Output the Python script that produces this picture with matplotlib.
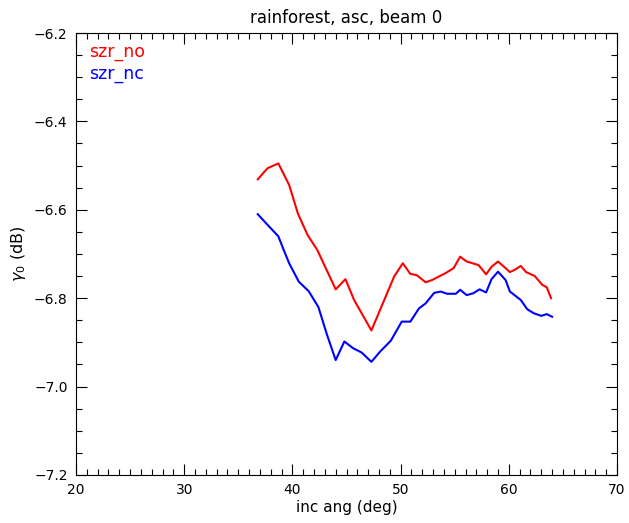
import matplotlib
matplotlib.use("Agg")
import matplotlib.pyplot as plt
from matplotlib.ticker import MultipleLocator, FuncFormatter

# values (incidence angle in deg, gamma0 in dB)
ang_no = [36.8, 37.7, 38.7, 39.7, 40.5, 41.4, 42.3, 44.0, 44.9, 45.7, 47.3,
          49.4, 50.2, 50.9, 51.5, 52.3, 52.9, 54.1, 54.9, 55.5, 56.1, 57.2,
          57.9, 58.4, 59.0, 59.7, 60.1, 60.6, 61.1, 61.6, 62.4, 63.1, 63.5, 63.9]
szr_no = [-6.531, -6.506, -6.495, -6.544, -6.608, -6.657, -6.691, -6.780,
          -6.757, -6.804, -6.873, -6.751, -6.721, -6.745, -6.748, -6.764,
          -6.759, -6.744, -6.732, -6.706, -6.717, -6.725, -6.746, -6.729,
          -6.717, -6.732, -6.741, -6.735, -6.727, -6.741, -6.750, -6.770,
          -6.775, -6.800]

ang_nc = [36.8, 37.7, 38.7, 39.2, 39.7, 40.6, 41.5, 42.4, 43.2, 44.0, 44.8,
          45.6, 46.4, 47.3, 48.1, 49.1, 50.1, 50.9, 51.7, 52.3, 53.1, 53.7,
          54.3, 55.1, 55.5, 56.1, 56.7, 57.3, 57.9, 58.4, 59.0, 59.7, 60.1,
          61.1, 61.7, 62.3, 63.0, 63.5, 64.0]
szr_nc = [-6.610, -6.634, -6.660, -6.691, -6.721, -6.763, -6.784, -6.820,
          -6.883, -6.940, -6.898, -6.913, -6.923, -6.944, -6.921, -6.896,
          -6.853, -6.853, -6.823, -6.812, -6.788, -6.785, -6.790, -6.790,
          -6.781, -6.793, -6.789, -6.780, -6.787, -6.757, -6.740, -6.759,
          -6.785, -6.804, -6.825, -6.834, -6.840, -6.836, -6.842]

fig = plt.figure(figsize=(6.29, 5.23), dpi=100)
ax = fig.add_axes([0.1208, 0.0918, 0.8602, 0.8451])

ax.plot(ang_no, szr_no, color="#ff0000", lw=1.5)
ax.plot(ang_nc, szr_nc, color="#0000ff", lw=1.5)

ax.set_xlim(20, 70)
ax.set_ylim(-7.2, -6.2)
ax.xaxis.set_major_locator(MultipleLocator(10))
ax.xaxis.set_minor_locator(MultipleLocator(1))
ax.yaxis.set_major_locator(MultipleLocator(0.2))
ax.yaxis.set_minor_locator(MultipleLocator(0.05))
ax.yaxis.set_major_formatter(
    FuncFormatter(lambda v, _: f"{v:.1f}".replace("-", "\u2212")))
ax.tick_params(which="both", direction="in", top=True, right=True,
               labelsize=10, width=0.8)
ax.tick_params(which="major", length=8, pad=6)
ax.tick_params(which="minor", length=4.3)
for s in ax.spines.values():
    s.set_linewidth(0.8)

ax.text(0.025, 0.978, "szr_no", color="#ff0000", fontsize=12.5,
        transform=ax.transAxes, va="top")
ax.text(0.025, 0.928, "szr_nc", color="#0000ff", fontsize=12.5,
        transform=ax.transAxes, va="top")

ax.set_title("rainforest, asc, beam 0", fontsize=12, pad=7)
ax.set_xlabel("inc ang (deg)", fontsize=11, labelpad=2)
ax.set_ylabel(r"$\gamma_0$ (dB)", fontsize=11.5, labelpad=4)

fig.savefig("out.png", dpi=100)
